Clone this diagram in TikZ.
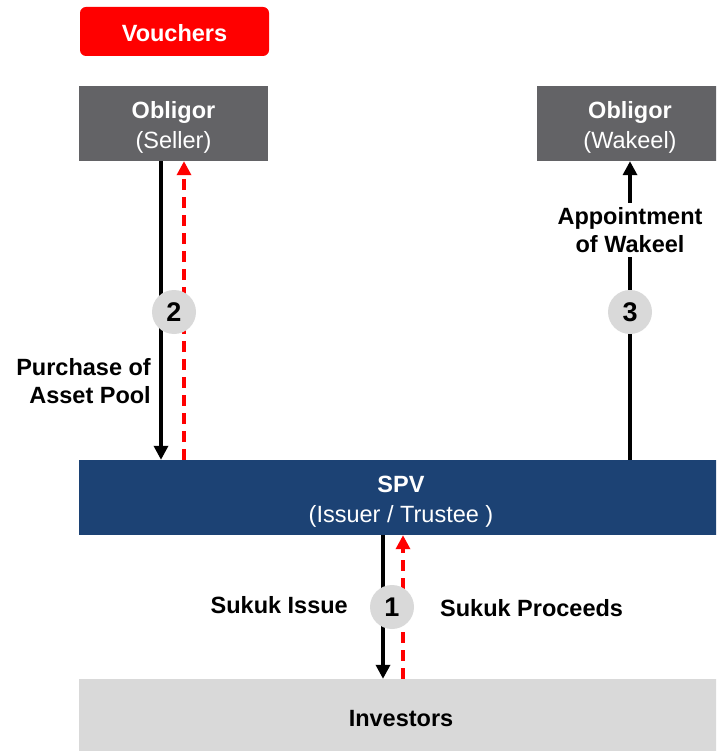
\documentclass[tikz,border=0pt]{standalone}
\usepackage{fontspec}
\setmainfont{Liberation Sans}
\usetikzlibrary{arrows.meta}
\definecolor{oblgrey}{HTML}{636366}
\definecolor{spvblue}{HTML}{1C4274}
\definecolor{invgrey}{HTML}{D9D9D9}
\definecolor{vred}{HTML}{FF0000}
% lower a line of box text without changing the box size
\newcommand{\lowtxt}[2][4pt]{\raisebox{-#1}[\height][\depth]{#2}}
\begin{document}
\begin{tikzpicture}[x=1pt,y=-1pt,
  txt/.style={font=\fontsize{23.5}{29.5}\selectfont, align=center, inner sep=0pt},
  box/.style={rectangle, txt, minimum height=75pt},
  numdisc/.style={circle, fill=invgrey, minimum size=44pt, inner sep=0pt,
    font=\fontsize{27}{30}\selectfont\bfseries},
  flow/.style={line width=3.3pt, -{Triangle[length=14pt,width=14pt]}},
  back/.style={line width=3.3pt, vred, dash pattern=on 11pt off 7pt,
    -{Triangle[length=14pt,width=14pt]}},
  lbl/.style={txt, font=\fontsize{23.5}{28.5}\selectfont\bfseries}
]
\useasboundingbox (0,0) rectangle (716,751);
\begin{scope}
\clip (0,0) rectangle (716,751);

% parties
\node[box, fill=vred, text=white, rounded corners=6pt, minimum width=189pt,
  minimum height=49pt, font=\fontsize{23.5}{28.5}\selectfont\bfseries]
  (vouchers) at (174.5,31.5) {\lowtxt[2pt]{Vouchers}};
\node[box, fill=oblgrey, text=white, minimum width=189pt]
  (seller) at (173.5,123.5) {\lowtxt{\textbf{Obligor}}\\\lowtxt{(Seller)}};
\node[box, fill=oblgrey, text=white, minimum width=186pt]
  (wakeel) at (630,123.5) {\lowtxt{\textbf{Obligor}}\\\lowtxt{(Wakeel)}};
\node[box, fill=spvblue, text=white, minimum width=644pt]
  (spv) at (401,497.5) {\lowtxt{\textbf{SPV}}\\\lowtxt{(Issuer / Trustee )}};
\node[box, fill=invgrey, text=black, minimum width=644pt, minimum height=72pt,
  font=\fontsize{23.5}{28.5}\selectfont\bfseries]
  (inv) at (401,715) {\lowtxt{Investors}};

% x positions of the flow lines
\coordinate (xa) at (161,0);
\coordinate (xb) at (184,0);
\coordinate (xc) at (630,0);
\coordinate (xd) at (383,0);
\coordinate (xe) at (403,0);

% step 2: purchase of the asset pool
\draw[flow] (seller.south -| xa) -- (spv.north -| xa);
\draw[back] (spv.north -| xb) -- (seller.south -| xb);
\node[numdisc] (n2) at (174,312) {2};
\node[lbl, align=right, anchor=east] (purch) at (151,381) {Purchase of\\Asset Pool};

% step 3: appointment of the wakeel
\draw[flow] (spv.north -| xc) -- (wakeel.south -| xc);
\node[lbl, fill=white, inner ysep=4pt, inner xsep=2pt] (appt) at (630,230)
  {Appointment\\of Wakeel};
\node[numdisc] (n3) at (630,312) {3};

% step 1: sukuk issue and proceeds
\draw[flow] (spv.south -| xd) -- (inv.north -| xd);
\draw[back] (inv.north -| xe) -- (spv.south -| xe);
\node[numdisc] (n1) at (392,607) {1};
\node[lbl, anchor=east] (issue) at (348,605) {Sukuk Issue};
\node[lbl, anchor=west] (proc) at (440,608) {Sukuk Proceeds};
\end{scope}
\end{tikzpicture}
\end{document}
